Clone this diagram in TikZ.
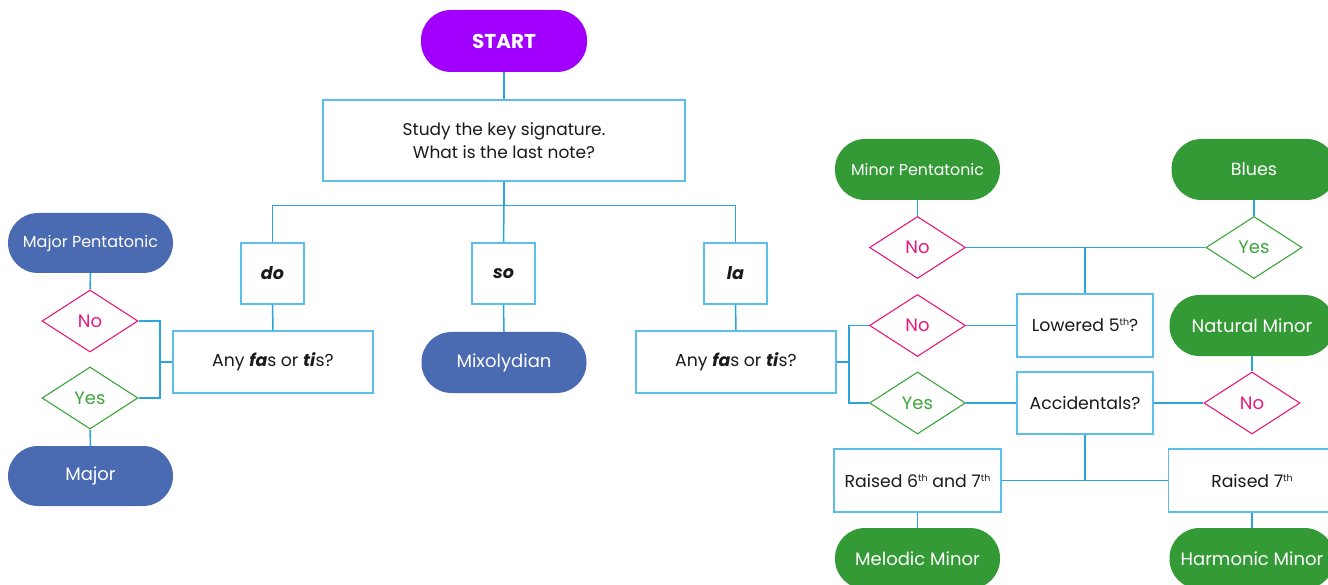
\documentclass[tikz,border=0pt]{standalone}
\usepackage{fontspec}
\setmainfont{Poppins}
\usetikzlibrary{shapes.geometric}
\definecolor{conn}{HTML}{2BA3DE}
\definecolor{boxb}{HTML}{5DBDEB}
\definecolor{nocol}{HTML}{E5197E}
\definecolor{yescol}{HTML}{3DA63A}
\definecolor{greenov}{HTML}{349A36}
\definecolor{blueov}{HTML}{4A6BB2}
\definecolor{purp}{HTML}{A100FF}
\definecolor{txt}{HTML}{1A1A1A}
\newcommand{\fs}[1]{\fontsize{#1}{#1}\selectfont}
\newcommand{\thsup}{\raisebox{6pt}{\fontsize{9.5}{9.5}\selectfont th}}
\begin{document}
\begin{tikzpicture}[x=1pt,y=-1pt,
  qbox/.style={draw=boxb, line width=1.4pt, fill=white, text=txt, align=center, inner sep=0pt, font=\fs{17.3}},
  oval/.style={rounded corners=30pt, minimum width=165pt, minimum height=61pt, inner sep=0pt, text=white, font=\fs{18}},
  goval/.style={oval, fill=greenov},
  boval/.style={oval, fill=blueov},
  dia/.style={diamond, aspect=1.53, minimum width=96pt, minimum height=62pt, inner sep=0pt, fill=white, line width=1.1pt, font=\fs{18}},
  nodia/.style={dia, draw=nocol, text=nocol},
  yesdia/.style={dia, draw=yescol, text=yescol},
  link/.style={draw=conn, line width=1.5pt}
]
\path[use as bounding box] (0,0) rectangle (1328,585);
\clip (0,0) rectangle (1328,585);

% top
\node[oval, fill=purp, minimum width=166pt, minimum height=62pt, font=\fs{20}\bfseries] (start) at (504,41) {START};
\node[qbox, minimum width=362pt, minimum height=81pt, font=\fs{17}] (study) at (504,140.5) {Study the key signature.\\[5pt]What is the last note?};
\node[qbox, minimum width=63pt, minimum height=61pt, font=\fs{17.5}\bfseries\itshape] (do) at (272.5,273.5) {do};
\node[qbox, minimum width=63pt, minimum height=61pt, font=\fs{17.5}\bfseries\itshape] (so) at (503.5,273.5) {so};
\node[qbox, minimum width=63pt, minimum height=61pt, font=\fs{17.5}\bfseries\itshape] (la) at (735.5,273.5) {la};
\node[qbox, minimum width=200pt, minimum height=62pt] (anyL) at (273,362) {Any \textbf{\textit{fa}}s or \textbf{\textit{ti}}s?};
\node[boval] (mix) at (504,362.5) {Mixolydian};
\node[qbox, minimum width=200pt, minimum height=62pt] (anyR) at (736,362) {Any \textbf{\textit{fa}}s or \textbf{\textit{ti}}s?};

% left
\node[boval, minimum height=60pt, font=\fs{16}] (majpent) at (90.5,243) {Major Pentatonic};
\node[nodia] (noL) at (90,321) {No};
\node[yesdia] (yesL) at (90,398) {Yes};
\node[boval, minimum height=60pt] (major) at (90.5,476) {Major};

% right
\node[goval, font=\fs{15.8}] (minpent) at (917.5,169.5) {Minor Pentatonic};
\node[goval, font=\fs{17.5}] (blues) at (1254,169.5) {Blues};
\node[nodia] (noT) at (917.5,247.5) {No};
\node[yesdia] (yesT) at (1254,247.5) {Yes};
\node[nodia] (noM) at (917.5,325.5) {No};
\node[qbox, minimum width=136pt, minimum height=63pt] (low5) at (1085,325.5) {Lowered 5\thsup?};
\node[goval] (natmin) at (1252,325.5) {Natural Minor};
\node[yesdia] (yesB) at (917.5,403) {Yes};
\node[qbox, minimum width=136pt, minimum height=62pt] (acc) at (1085,403) {Accidentals?};
\node[nodia] (noR) at (1252,403) {No};
\node[qbox, minimum width=167pt, minimum height=63pt] (r67) at (917.5,480.5) {Raised 6\thsup{} and 7\thsup};
\node[qbox, minimum width=167pt, minimum height=63pt] (r7) at (1252,480.5) {Raised 7\thsup};
\node[goval] (melodic) at (917.5,558.5) {Melodic Minor};
\node[goval] (harmonic) at (1252,558.5) {Harmonic Minor};

% connectors
\path[link] (start.south) -- (study.north);
\path[link] (study.south) -- ++(0,24) coordinate (hub);
\path[link] (do.north) |- (hub) -| (la.north);
\path[link] (hub) -- (so.north);
\path[link] (do.south) -- (anyL.north);
\path[link] (so.south) -- (mix.north);
\path[link] (la.south) -- (anyR.north);

\path[link] (majpent.south) -- (noL.north);
\path[link] (yesL.south) -- (major.north);
\coordinate (jl) at (160,362);
\path[link] (noL.east) -| (jl) |- (yesL.east);
\path[link] (jl) -- (anyL.west);

\coordinate (jr) at (849,362);
\path[link] (noM.west) -| (jr) |- (yesB.west);
\path[link] (anyR.east) -- (jr);
\path[link] (minpent.south) -- (noT.north);
\path[link] (blues.south) -- (yesT.north);
\path[link] (noT.east) -- (yesT.west);
\path[link] (low5.north) -- (low5.north |- noT.east);
\path[link] (noM.east) -- (low5.west);
\path[link] (natmin.south) -- (noR.north);
\path[link] (yesB.east) -- (acc.west);
\path[link] (acc.east) -- (noR.west);
\path[link] (acc.south) -- (acc.south |- r67.east);
\path[link] (r67.east) -- (r7.west);
\path[link] (r67.south) -- (melodic.north);
\path[link] (r7.south) -- (harmonic.north);
\end{tikzpicture}
\end{document}
